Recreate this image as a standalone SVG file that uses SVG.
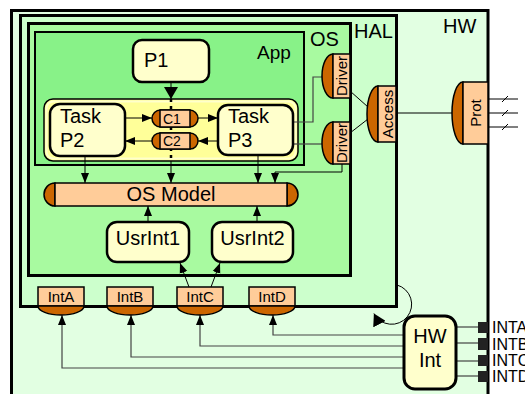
<svg xmlns="http://www.w3.org/2000/svg" width="525" height="394" viewBox="0 0 525 394">
<defs>
<marker id="ah" markerUnits="userSpaceOnUse" markerWidth="10" markerHeight="10" refX="10" refY="5" orient="auto" viewBox="0 0 10 10"><path d="M0,1 L10,5 L0,9 z" fill="#000"/></marker>
<marker id="ahb" markerUnits="userSpaceOnUse" markerWidth="12" markerHeight="14" refX="12" refY="7" orient="auto" viewBox="0 0 12 14"><path d="M0,0 L12,7 L0,14 z" fill="#000"/></marker>
</defs>
<style>
.t{font-family:"Liberation Sans",Arial,sans-serif;fill:#000}
.box{fill:#ffffcc;stroke:#000;stroke-width:2.5}
.or{fill:#cc6600;stroke:#000;stroke-width:1.5}
.pe{fill:#ffcc99;stroke:#000;stroke-width:1.5}
.ln{fill:none;stroke:#000;stroke-width:1}
.gl{fill:none;stroke:#444;stroke-width:1.2}
.sq{fill:#222}
</style>
<g id="HW">
<rect x="11.5" y="10.5" width="476.5" height="400" fill="#e2ffe2" stroke="#000" stroke-width="3"/>
<text class="t" x="443" y="33" font-size="20">HW</text>
</g>
<g id="HAL">
<rect x="20.5" y="15.5" width="376" height="291" fill="#ccffcc" stroke="#000" stroke-width="3"/>
<text class="t" x="354" y="38" font-size="20">HAL</text>
</g>
<g id="OS">
<rect x="28.5" y="23.5" width="322" height="252" fill="#a8faa0" stroke="#000" stroke-width="3"/>
<text class="t" x="310" y="46" font-size="20">OS</text>
</g>
<g id="App">
<rect x="35" y="32" width="269" height="133" fill="#88f288" stroke="#000" stroke-width="2"/>
<text class="t" x="257" y="59" font-size="19">App</text>
</g>
<g id="TaskGroup">
<rect x="44" y="99" width="254" height="62" rx="9" fill="#ffff99" stroke="#000" stroke-width="1.5"/>
<rect x="46.5" y="101.5" width="249" height="57" rx="7" fill="none" stroke="#ffffcc" stroke-width="2"/>
</g>
<g id="connectors">
<line class="ln" x1="171" y1="82" x2="171" y2="99" stroke-width="3" marker-end="url(#ahb)"/>
<line x1="171" y1="99" x2="171" y2="161" stroke="#000" stroke-width="2.5" stroke-dasharray="3 4"/>
<line class="ln" x1="171" y1="161" x2="171" y2="183" marker-end="url(#ah)"/>
<line class="ln" x1="85" y1="156" x2="85" y2="183" marker-end="url(#ah)"/>
<line class="ln" x1="258" y1="155" x2="258" y2="183" marker-end="url(#ah)"/>
<polyline class="ln" points="342,164 342,172 275,172 275,183" marker-end="url(#ah)"/>
<line class="ln" x1="148" y1="222" x2="148" y2="206" marker-end="url(#ah)"/>
<line class="ln" x1="257" y1="222" x2="257" y2="206" marker-end="url(#ah)"/>
<line class="ln" x1="189" y1="287" x2="180" y2="263" marker-end="url(#ah)"/>
<line class="ln" x1="211" y1="287" x2="220" y2="263" marker-end="url(#ah)"/>
<line class="ln" x1="125" y1="118" x2="152" y2="118" marker-end="url(#ah)"/>
<line class="ln" x1="198" y1="118" x2="218" y2="118" marker-end="url(#ah)"/>
<line class="ln" x1="218" y1="141" x2="198" y2="141" marker-end="url(#ah)"/>
<line class="ln" x1="152" y1="141" x2="125" y2="141" marker-end="url(#ah)"/>
<polyline class="gl" points="293,122 313,122 313,77 322,77"/>
<line class="gl" x1="293" y1="144" x2="322" y2="144"/>
<line class="ln" x1="350" y1="91" x2="368" y2="107"/>
<line class="ln" x1="350" y1="133" x2="368" y2="119"/>
<line class="ln" x1="396" y1="113" x2="452" y2="113"/>
<line class="ln" x1="488" y1="99" x2="518" y2="99"/>
<line class="ln" x1="488" y1="113" x2="518" y2="113"/>
<line class="ln" x1="488" y1="127" x2="518" y2="127"/>
<line class="ln" x1="502" y1="102" x2="508" y2="96"/>
<line class="ln" x1="502" y1="116" x2="508" y2="110"/>
<line class="ln" x1="502" y1="130" x2="508" y2="124"/>
<polyline class="gl" points="404,335 273,335 273,315" marker-end="url(#ah)"/>
<polyline class="gl" points="404,346 200,346 200,315" marker-end="url(#ah)"/>
<polyline class="gl" points="404,357 131,357 131,315" marker-end="url(#ah)"/>
<polyline class="gl" points="404,368 62,368 62,315" marker-end="url(#ah)"/>
<line class="gl" x1="456" y1="327" x2="478" y2="327"/>
<line class="gl" x1="456" y1="343" x2="478" y2="343"/>
<line class="gl" x1="456" y1="361" x2="478" y2="361"/>
<line class="gl" x1="456" y1="376" x2="478" y2="376"/>
<path class="ln" d="M397,285 A20,20 0 1 1 373.9,313.5" marker-end="url(#ahb)"/>
</g>
<g id="P1">
<rect x="133" y="40" width="76" height="42" rx="9" class="box"/>
<text class="t" x="144" y="67" font-size="20">P1</text>
</g>
<g id="TaskP2">
<rect x="50" y="104" width="75" height="52" rx="10" class="box"/>
<text class="t" x="60" y="123" font-size="20">Task</text>
<text class="t" x="60" y="147" font-size="20">P2</text>
</g>
<g id="TaskP3">
<rect x="218" y="105" width="75" height="50" rx="10" class="box"/>
<text class="t" x="228" y="123" font-size="20">Task</text>
<text class="t" x="228" y="147" font-size="20">P3</text>
</g>
<g id="C1">
<rect x="152" y="110" width="46" height="17" rx="8.5" class="or"/>
<rect x="160" y="110" width="30" height="17" class="pe"/>
<text class="t" x="163" y="124" font-size="14">C1</text>
</g>
<g id="C2">
<rect x="152" y="133" width="46" height="16" rx="8" class="or"/>
<rect x="160" y="133" width="30" height="16" class="pe"/>
<text class="t" x="163" y="146" font-size="14">C2</text>
</g>
<g id="OSModel">
<path d="M55,183 A11,11.5 0 0 0 55,206 Z" class="or"/>
<path d="M287,183 A11,11.5 0 0 1 287,206 Z" class="or"/>
<rect x="55" y="183" width="232" height="23" class="pe"/>
<text class="t" x="171" y="201" font-size="20" text-anchor="middle">OS Model</text>
</g>
<g id="UsrInt1">
<rect x="107" y="222" width="82" height="40" rx="10" class="box"/>
<text class="t" x="148" y="245" font-size="20" text-anchor="middle">UsrInt1</text>
</g>
<g id="UsrInt2">
<rect x="212" y="222" width="81" height="40" rx="10" class="box"/>
<text class="t" x="252.5" y="245" font-size="20" text-anchor="middle">UsrInt2</text>
</g>
<g id="IntA">
<rect x="38" y="287" width="46" height="19" class="pe"/>
<path d="M38,306 A23,9 0 0 0 84,306 Z" class="or"/>
<text class="t" x="61" y="302" font-size="15" text-anchor="middle">IntA</text>
</g>
<g id="IntB">
<rect x="107" y="287" width="46" height="19" class="pe"/>
<path d="M107,306 A23,9 0 0 0 153,306 Z" class="or"/>
<text class="t" x="130" y="302" font-size="15" text-anchor="middle">IntB</text>
</g>
<g id="IntC">
<rect x="177" y="287" width="46" height="19" class="pe"/>
<path d="M177,306 A23,9 0 0 0 223,306 Z" class="or"/>
<text class="t" x="200" y="302" font-size="15" text-anchor="middle">IntC</text>
</g>
<g id="IntD">
<rect x="249" y="287" width="46" height="19" class="pe"/>
<path d="M249,306 A23,9 0 0 0 295,306 Z" class="or"/>
<text class="t" x="272" y="302" font-size="15" text-anchor="middle">IntD</text>
</g>
<g id="Driver1">
<path d="M333,54 A11,22 0 0 0 333,98 Z" class="or"/>
<rect x="333" y="54" width="17" height="44" class="pe"/>
<text class="t" font-size="15" text-anchor="middle" transform="translate(347,76) rotate(-90)">Driver</text>
</g>
<g id="Driver2">
<path d="M333,122 A11,21 0 0 0 333,164 Z" class="or"/>
<rect x="333" y="122" width="17" height="42" class="pe"/>
<text class="t" font-size="15" text-anchor="middle" transform="translate(347,143) rotate(-90)">Driver</text>
</g>
<g id="Access">
<path d="M378,86 A11,28 0 0 0 378,142 Z" class="or"/>
<rect x="378" y="86" width="18" height="56" class="pe"/>
<text class="t" font-size="15" text-anchor="middle" transform="translate(392.5,114) rotate(-90)">Access</text>
</g>
<g id="Prot">
<path d="M463,82 A11,31 0 0 0 463,144 Z" class="or"/>
<rect x="463" y="82" width="25" height="62" class="pe"/>
<text class="t" font-size="15" text-anchor="middle" transform="translate(481,113) rotate(-90)">Prot</text>
</g>
<g id="HWInt">
<rect x="404" y="316" width="52" height="73" rx="11" fill="#ffffcc" stroke="#000" stroke-width="3"/>
<text class="t" x="430" y="343" font-size="20" text-anchor="middle">HW</text>
<text class="t" x="430" y="367" font-size="20" text-anchor="middle">Int</text>
</g>
<g id="IntPins">
<rect x="478" y="322" width="10" height="11" class="sq"/>
<rect x="478" y="338" width="10" height="12" class="sq"/>
<rect x="478" y="355" width="10" height="11" class="sq"/>
<rect x="478" y="371" width="10" height="11" class="sq"/>
<text class="t" x="492" y="333" font-size="16">INTA</text>
<text class="t" x="492" y="350" font-size="16">INTB</text>
<text class="t" x="492" y="366" font-size="16">INTC</text>
<text class="t" x="492" y="382" font-size="16">INTD</text>
</g>
</svg>
